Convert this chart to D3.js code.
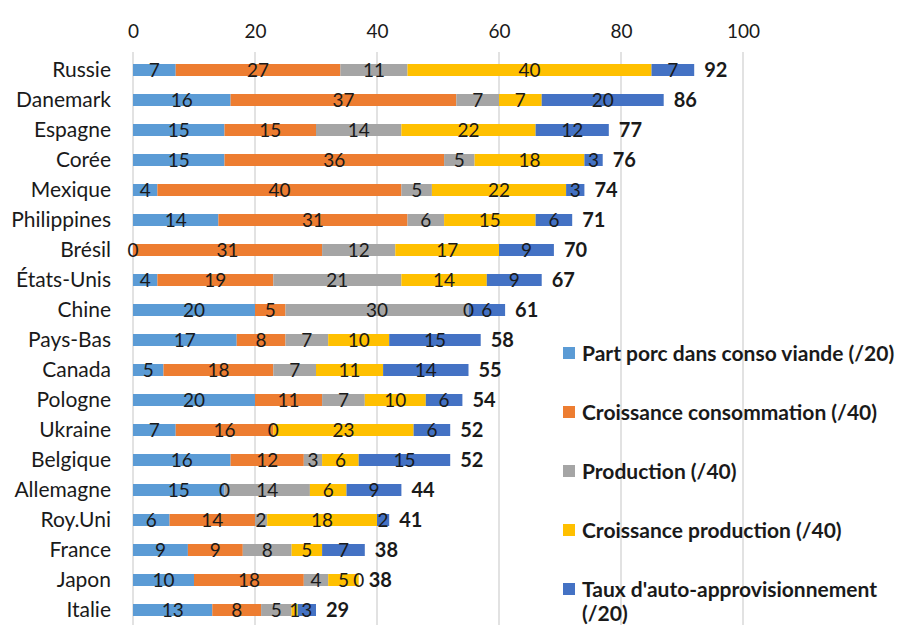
<!DOCTYPE html>
<html>
<head>
<meta charset="utf-8">
<script src="https://cdn.jsdelivr.net/npm/d3@7"></script>
<style>
  html, body { margin: 0; padding: 0; background: #fff; }
  svg { display: block; font-family: Lato, "Open Sans", sans-serif; }
</style>
</head>
<body>
<svg id="chart" width="898" height="625"></svg>
<script>
// Pays classés par score total
const countries = ["Russie", "Danemark", "Espagne", "Corée", "Mexique", "Philippines", "Brésil",
  "États-Unis", "Chine", "Pays-Bas", "Canada", "Pologne", "Ukraine", "Belgique", "Allemagne",
  "Roy.Uni", "France", "Japon", "Italie"];

// Composantes du score
const partPorc     = [7, 16, 15, 15, 4, 14, 0, 4, 20, 17, 5, 20, 7, 16, 15, 6, 9, 10, 13];
const croissConso  = [27, 37, 15, 36, 40, 31, 31, 19, 5, 8, 18, 11, 16, 12, 0, 14, 9, 18, 8];
const production   = [11, 7, 14, 5, 5, 6, 12, 21, 30, 7, 7, 7, 0, 3, 14, 2, 8, 4, 5];
const croissProd   = [40, 7, 22, 18, 22, 15, 17, 14, 0, 10, 11, 10, 23, 6, 6, 18, 5, 5, 1];
const autoAppro    = [7, 20, 12, 3, 3, 6, 9, 9, 6, 15, 14, 6, 6, 15, 9, 2, 7, 0, 3];

// Score total affiché en bout de barre
const totals = [92, 86, 77, 76, 74, 71, 70, 67, 61, 58, 55, 54, 52, 52, 44, 41, 38, 38, 29];

const seriesNames = [
  "Part porc dans conso viande (/20)",
  "Croissance consommation (/40)",
  "Production (/40)",
  "Croissance production (/40)",
  "Taux d'auto-approvisionnement (/20)"
];
const seriesValues = [partPorc, croissConso, production, croissProd, autoAppro];
const colors = ["#5B9BD5", "#ED7D31", "#A5A5A5", "#FFC000", "#4472C4"];
const xTicks = [0, 20, 40, 60, 80, 100];

const svg = d3.select("#chart");
const textColor = "#1a1a1a";
const numSize = 19;   // chiffres
const textSize = 21;  // libellés

const x = d3.scaleLinear().domain([0, 100]).range([133, 743]);
const y = d3.scaleBand().domain(countries).range([55, 625]).paddingInner(0.6).paddingOuter(0.3);

// Quadrillage vertical
svg.append("g")
  .selectAll("line")
  .data(xTicks)
  .join("line")
  .attr("x1", d => x(d)).attr("x2", d => x(d))
  .attr("y1", 52).attr("y2", 625)
  .attr("stroke", "#d9d9d9")
  .attr("stroke-width", 1.5);

// Axe du haut
const xAxis = svg.append("g")
  .attr("transform", "translate(0,38)")
  .call(d3.axisTop(x).tickValues(xTicks).tickSize(0).tickPadding(0));
xAxis.select(".domain").remove();
xAxis.selectAll("text")
  .attr("font-family", "Lato, sans-serif")
  .attr("font-size", numSize)
  .attr("fill", textColor);

// Axe des pays
const yAxis = svg.append("g")
  .attr("transform", `translate(${x(0) - 22},0)`)
  .call(d3.axisLeft(y).tickSize(0).tickPadding(0));
yAxis.select(".domain").remove();
yAxis.selectAll("text")
  .attr("font-family", "Lato, sans-serif")
  .attr("font-size", textSize)
  .attr("fill", textColor)
  .attr("dy", "0.35em");

// Données empilées
const rows = countries.map((c, i) => {
  const r = { country: c };
  seriesNames.forEach((s, k) => { r[s] = seriesValues[k][i]; });
  return r;
});
const stacked = d3.stack().keys(seriesNames)(rows);

const layers = svg.append("g")
  .selectAll("g")
  .data(stacked)
  .join("g")
  .attr("fill", (d, i) => colors[i]);

layers.selectAll("rect")
  .data(d => d)
  .join("rect")
  .attr("x", d => x(d[0]))
  .attr("y", d => y(d.data.country))
  .attr("width", d => x(d[1]) - x(d[0]))
  .attr("height", y.bandwidth());

// Étiquettes de valeur au centre des segments
const labels = svg.append("g");
stacked.forEach(layer => {
  labels.selectAll(null)
    .data(layer)
    .join("text")
    .attr("x", d => x((d[0] + d[1]) / 2))
    .attr("y", d => y(d.data.country) + y.bandwidth() / 2)
    .attr("dy", "0.37em")
    .attr("text-anchor", "middle")
    .attr("font-size", numSize)
    .attr("fill", textColor)
    .text(d => d[1] - d[0]);
});

// Totaux en gras
const last = stacked[stacked.length - 1];
svg.append("g")
  .selectAll("text")
  .data(last)
  .join("text")
  .attr("x", d => x(d[1]) + 10)
  .attr("y", d => y(d.data.country) + y.bandwidth() / 2)
  .attr("dy", "0.37em")
  .attr("font-size", numSize + 1)
  .attr("font-weight", "bold")
  .attr("fill", textColor)
  .text((d, i) => totals[i]);

// Légende
const legendX = 563, legendY0 = 353, legendStep = 59, maxTextWidth = 314;
const legend = svg.append("g");
seriesNames.forEach((name, i) => {
  const cy = legendY0 + i * legendStep;
  legend.append("rect")
    .attr("x", legendX).attr("y", cy - 6)
    .attr("width", 12).attr("height", 12)
    .attr("fill", colors[i]);
  const t = legend.append("text")
    .attr("x", legendX + 19)
    .attr("y", cy)
    .attr("dy", "0.37em")
    .attr("font-size", textSize)
    .attr("font-weight", "bold")
    .attr("fill", textColor)
    .text(name);
  if (t.node().getComputedTextLength() > maxTextWidth) {
    const words = name.split(" ");
    const tail = words.pop();
    t.text(words.join(" "));
    legend.append("text")
      .attr("x", legendX + 19)
      .attr("y", cy + 24)
      .attr("dy", "0.37em")
      .attr("font-size", textSize)
      .attr("font-weight", "bold")
      .attr("fill", textColor)
      .text(tail);
  }
});
</script>
</body>
</html>
